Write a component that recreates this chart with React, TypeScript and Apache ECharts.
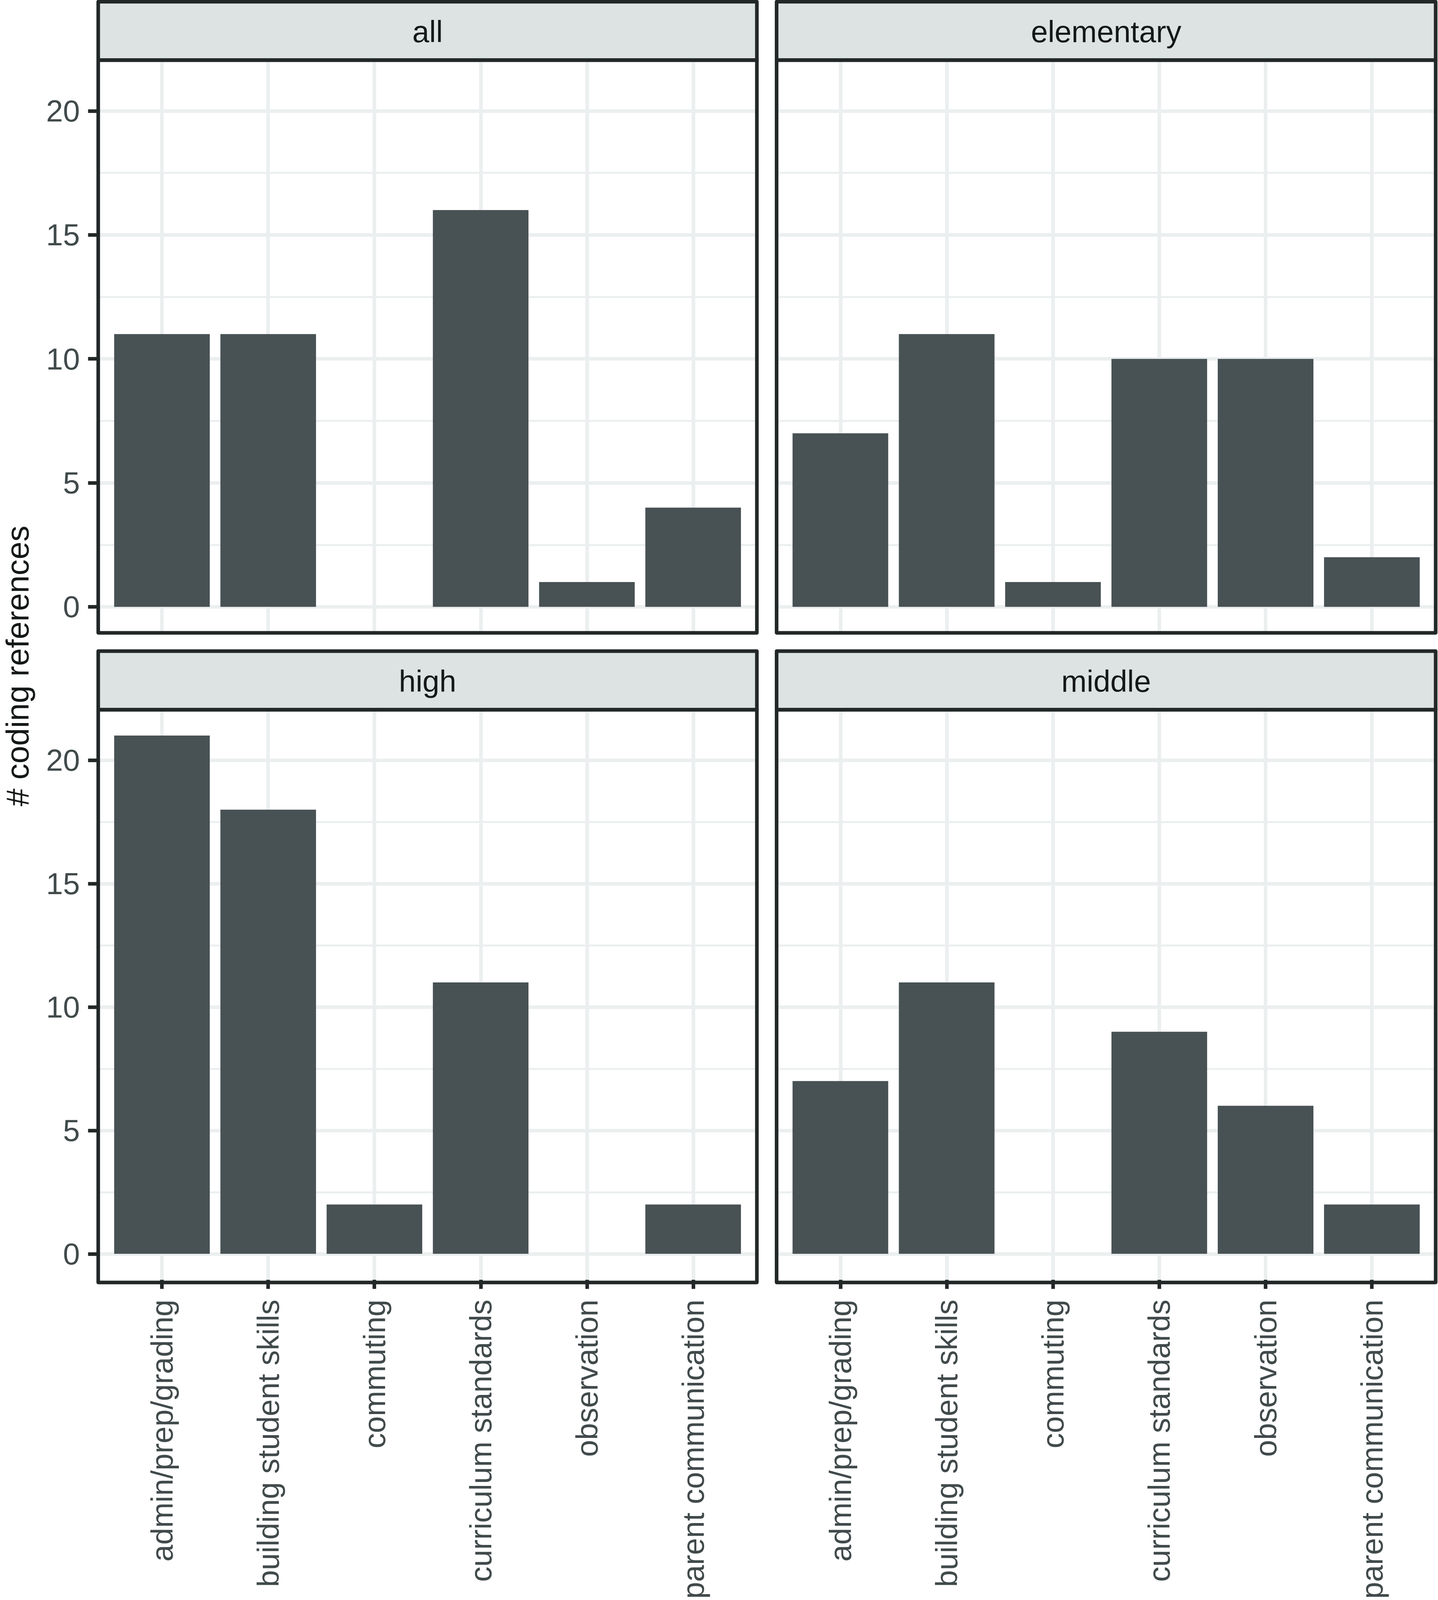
import React, { useEffect, useRef } from "react";
import * as echarts from "echarts";

// ---- data ----
const categories = [
  "admin/prep/grading",
  "building student skills",
  "commuting",
  "curriculum standards",
  "observation",
  "parent communication",
];
const facetNames = ["all", "elementary", "high", "middle"];
const allValues = [11, 11, 0, 16, 1, 4];
const elementaryValues = [7, 11, 1, 10, 10, 2];
const highValues = [21, 18, 2, 11, 0, 2];
const middleValues = [7, 11, 0, 9, 6, 2];
const yTicks = [0, 5, 10, 15, 20];
const yAxisTitle = "# coding references";

// ---- style / layout (in reference pixels, 3682 x 4207) ----
const REF_W = 3682;
const REF_H = 4207;
const FONT = '"Liberation Sans", Arial, Helvetica, sans-serif';
const BORDER = "#222827";
const BAR = "#485153";
const STRIP_FILL = "#DDE2E2";
const GRID = "#EBEFEF";
const TICK_TEXT = "#414A4B";
const DARK_TEXT = "#151818";

const cols = [
  { left: 251.5, width: 1686.5 },
  { left: 1988.5, width: 1687.5 },
];
const rows = [
  { stripTop: 4.5, top: 158, height: 1506 },
  { stripTop: 1712, top: 1866, height: 1506 },
];

function getSize() {
  const w = window.innerWidth || REF_W;
  const h = window.innerHeight || REF_H;
  return { w, h };
}

export default function App() {
  const ref = useRef<HTMLDivElement>(null);
  const size = getSize();

  useEffect(() => {
    if (!ref.current) return;
    const chart = echarts.init(ref.current, null, { renderer: "svg" });
    const sx = size.w / REF_W;
    const sy = size.h / REF_H;
    const s = Math.min(sx, sy);
    const LW = 9.5 * s;

    const seriesValues = [allValues, elementaryValues, highValues, middleValues];
    const xPositions = categories.map((_, i) => i + 1);

    const panels = facetNames.map((name, i) => ({
      name,
      values: seriesValues[i],
      col: i % 2,
      row: Math.floor(i / 2),
    }));

    const grid = panels.map((p) => ({
      left: cols[p.col].left * sx,
      top: rows[p.row].top * sy,
      width: cols[p.col].width * sx,
      height: rows[p.row].height * sy,
    }));

    const xAxis = panels.map((p, i) => {
      const bottom = p.row === 1;
      return {
        type: "value",
        gridIndex: i,
        position: "bottom",
        min: 0.4,
        max: 6.6,
        minInterval: 1,
        maxInterval: 1,
        axisLine: { show: false, onZero: false },
        axisTick: {
          show: bottom,
          length: 24 * sy,
          customValues: xPositions,
          lineStyle: { color: BORDER, width: LW },
        },
        axisLabel: {
          show: bottom,
          rotate: 90,
          margin: 52 * sy,
          fontSize: 80 * s,
          fontFamily: FONT,
          color: TICK_TEXT,
          customValues: xPositions,
          formatter: (v: number) =>
            Math.abs(v - Math.round(v)) < 1e-6 && categories[Math.round(v) - 1]
              ? categories[Math.round(v) - 1]
              : "",
        },
        splitLine: { show: true, lineStyle: { color: GRID, width: LW } },
      };
    });

    const yAxis = panels.map((p, i) => {
      const left = p.col === 0;
      return {
        type: "value",
        gridIndex: i,
        position: "left",
        min: -1.05,
        max: 22.05,
        minInterval: 5,
        maxInterval: 5,
        axisLine: { show: false, onZero: false },
        axisTick: {
          show: left,
          length: 26 * sx,
          customValues: yTicks,
          lineStyle: { color: BORDER, width: LW },
        },
        axisLabel: {
          show: left,
          margin: 47 * sx,
          fontSize: 80 * s,
          fontFamily: FONT,
          color: TICK_TEXT,
          customValues: yTicks,
          formatter: (v: number) => (yTicks.indexOf(v) >= 0 ? String(v) : ""),
        },
        splitLine: { show: true, lineStyle: { color: GRID, width: LW } },
        minorTick: { show: false, splitNumber: 2 },
        minorSplitLine: { show: true, lineStyle: { color: GRID, width: 5 * s } },
      };
    });

    const series = panels.map((p, i) => ({
      type: "bar",
      name: p.name,
      xAxisIndex: i,
      yAxisIndex: i,
      barWidth: "90%",
      itemStyle: { color: BAR },
      data: p.values.map((v, k) => [xPositions[k], v]),
    }));

    const graphics: any[] = [];
    panels.forEach((p) => {
      const c = cols[p.col];
      const r = rows[p.row];
      graphics.push({
        type: "rect",
        z: 50,
        shape: {
          x: c.left * sx,
          y: r.stripTop * sy,
          width: c.width * sx,
          height: (r.top - r.stripTop) * sy,
        },
        style: { fill: STRIP_FILL, stroke: BORDER, lineWidth: LW, lineJoin: "round" },
      });
      graphics.push({
        type: "text",
        z: 55,
        x: (c.left + c.width / 2) * sx,
        y: ((r.stripTop + r.top) / 2 + 2) * sy,
        style: {
          text: p.name,
          fontSize: 80 * s,
          fontFamily: FONT,
          fill: DARK_TEXT,
          align: "center",
          verticalAlign: "middle",
        },
      });
      graphics.push({
        type: "rect",
        z: 60,
        shape: {
          x: c.left * sx,
          y: r.top * sy,
          width: c.width * sx,
          height: r.height * sy,
        },
        style: { fill: "none", stroke: BORDER, lineWidth: LW, lineJoin: "round" },
      });
    });
    graphics.push({
      type: "text",
      z: 55,
      x: 44 * sx,
      y: 1751 * sy,
      rotation: Math.PI / 2,
      style: {
        text: yAxisTitle,
        fontSize: 84 * s,
        fontFamily: FONT,
        fill: DARK_TEXT,
        align: "center",
        verticalAlign: "middle",
      },
    });

    chart.setOption({
      animation: false,
      backgroundColor: "#ffffff",
      textStyle: { fontFamily: FONT },
      grid,
      xAxis,
      yAxis,
      series,
      graphic: { elements: graphics },
    } as any);

    return () => chart.dispose();
  }, []);

  return (
    <div
      ref={ref}
      style={{ position: "absolute", left: 0, top: 0, width: size.w, height: size.h }}
    />
  );
}
